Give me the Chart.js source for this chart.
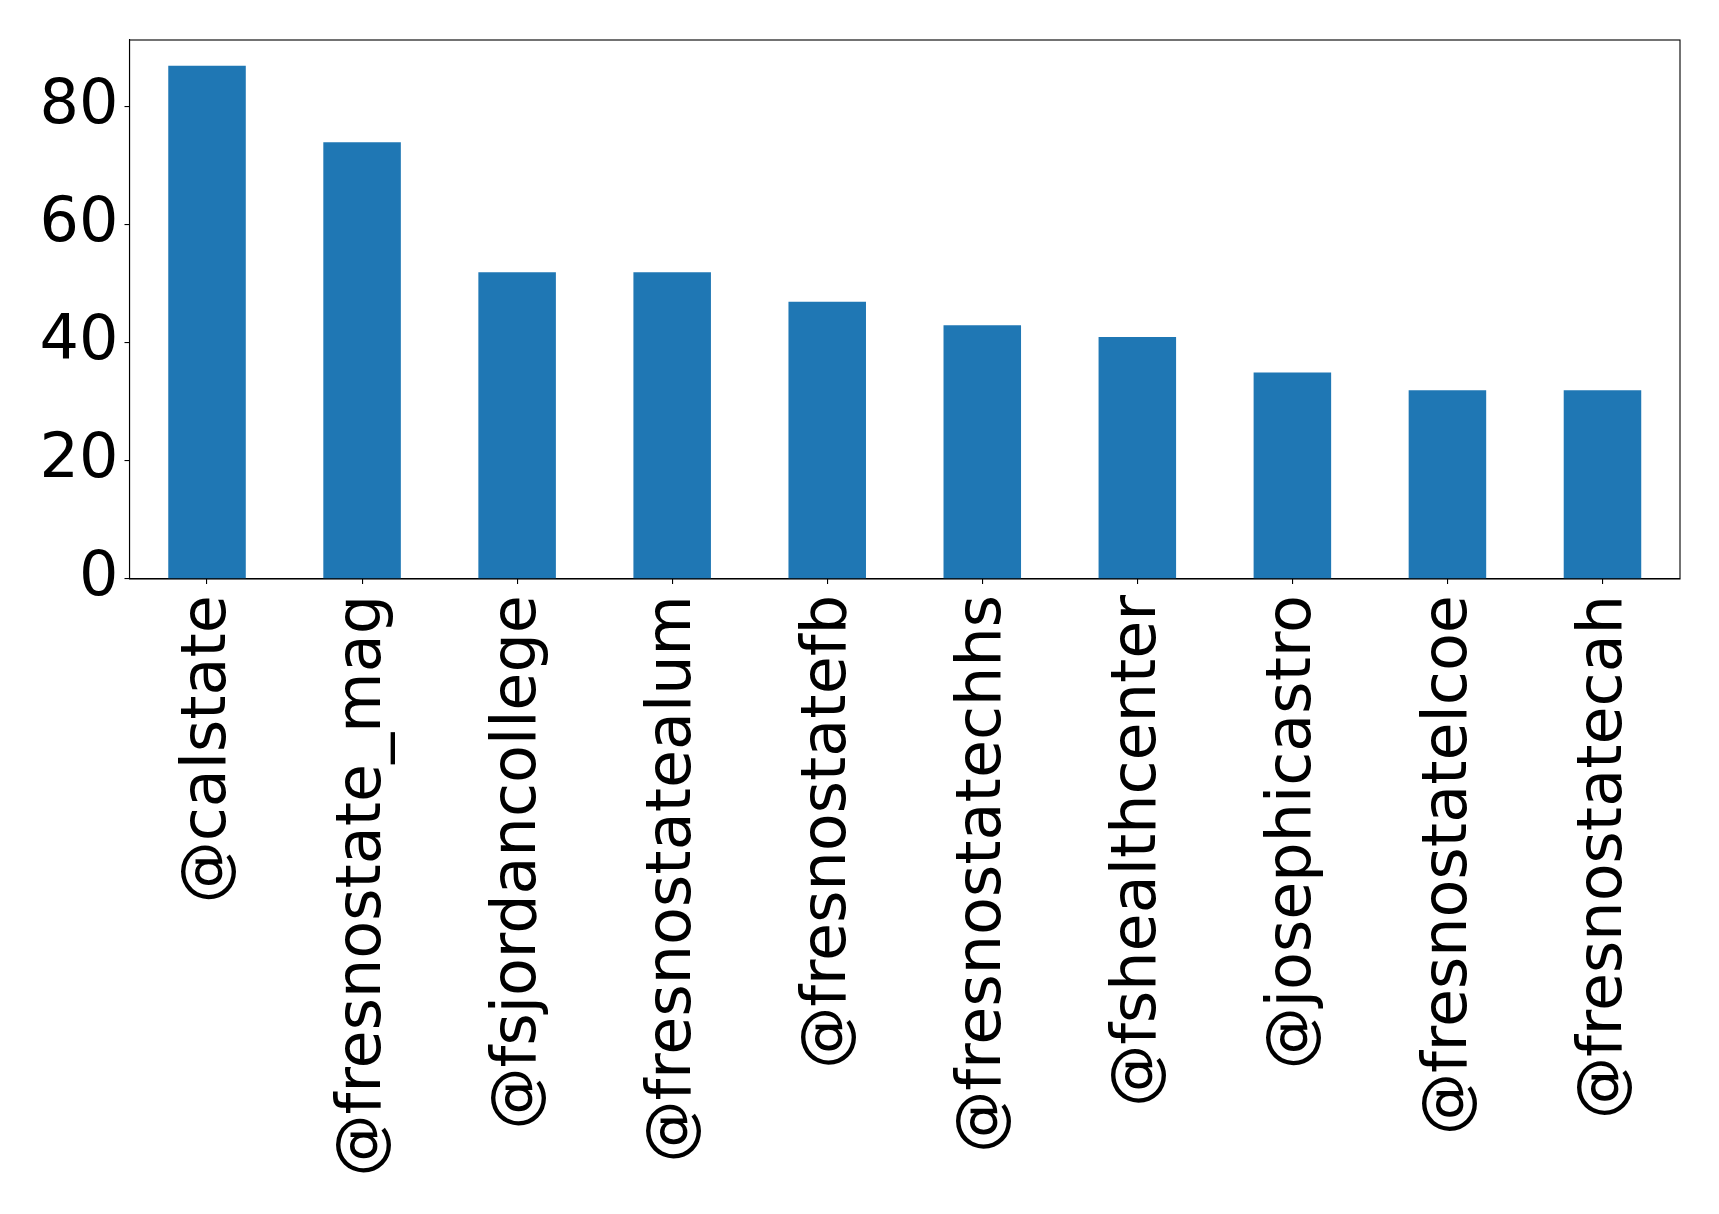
<!DOCTYPE html>
<html>
<head>
<meta charset="utf-8">
<script src="https://cdn.jsdelivr.net/npm/chart.js@4/dist/chart.umd.min.js"></script>
<style>
  body { margin:0; background:#fff; }
  canvas { display:block; }
</style>
</head>
<body>
<canvas id="chart" width="1719" height="1214"></canvas>
<script>
const accounts = ['@calstate','@fresnostate_mag','@fsjordancollege','@fresnostatealum','@fresnostatefb',
  '@fresnostatechhs','@fshealthcenter','@josephicastro','@fresnostatelcoe','@fresnostatecah'];
const counts = [87, 74, 52, 52, 47, 43, 41, 35, 32, 32];
const yTicks = [0, 20, 40, 60, 80];

const FONT = "'DejaVu Sans', sans-serif";

// full box around the plot area (matplotlib spines)
const frame = {
  id:'frame',
  afterDraw(chart){
    const a = chart.chartArea, ctx = chart.ctx;
    ctx.save();
    ctx.strokeStyle = '#000';
    ctx.lineWidth = 1.1;
    ctx.strokeRect(a.left, a.top, a.right - a.left, a.bottom - a.top);
    ctx.restore();
  }
};

Chart.defaults.animation = false;

new Chart(document.getElementById('chart'), {
  type:'bar',
  data:{
    labels: accounts,
    datasets:[{ data: counts, backgroundColor:'#1f77b4', barPercentage:0.5, categoryPercentage:1 }]
  },
  options:{
    responsive:false,
    layout:{ padding:{ top:40, right:39, left:0, bottom:0 } },
    plugins:{ legend:{display:false}, tooltip:{enabled:false} },
    scales:{
      x:{
        offset:true,
        grid:{ display:true, drawOnChartArea:false, offset:false, tickLength:5, tickColor:'#000', lineWidth:1.1 },
        border:{ color:'#000', width:1.1 },
        ticks:{ font:{ family:FONT, size:62 }, color:'#000', minRotation:90, maxRotation:90, padding:11, labelOffset:2, autoSkip:false },
        afterFit(s){ s.height = 1214 - 579; s.paddingLeft = 0; s.paddingRight = 0; }
      },
      y:{
        min:0, max:91.35,
        afterBuildTicks(s){ s.ticks = yTicks.map(v => ({value:v})); },
        grid:{ display:true, drawOnChartArea:false, tickLength:5, tickColor:'#000', lineWidth:1.1 },
        border:{ color:'#000', width:1.1 },
        ticks:{ font:{ family:FONT, size:62 }, color:'#000', padding:6 },
        afterFit(s){ s.width = 129.5; s.paddingTop = 0; s.paddingBottom = 0; }
      }
    }
  },
  plugins:[frame]
});
</script>
</body>
</html>
